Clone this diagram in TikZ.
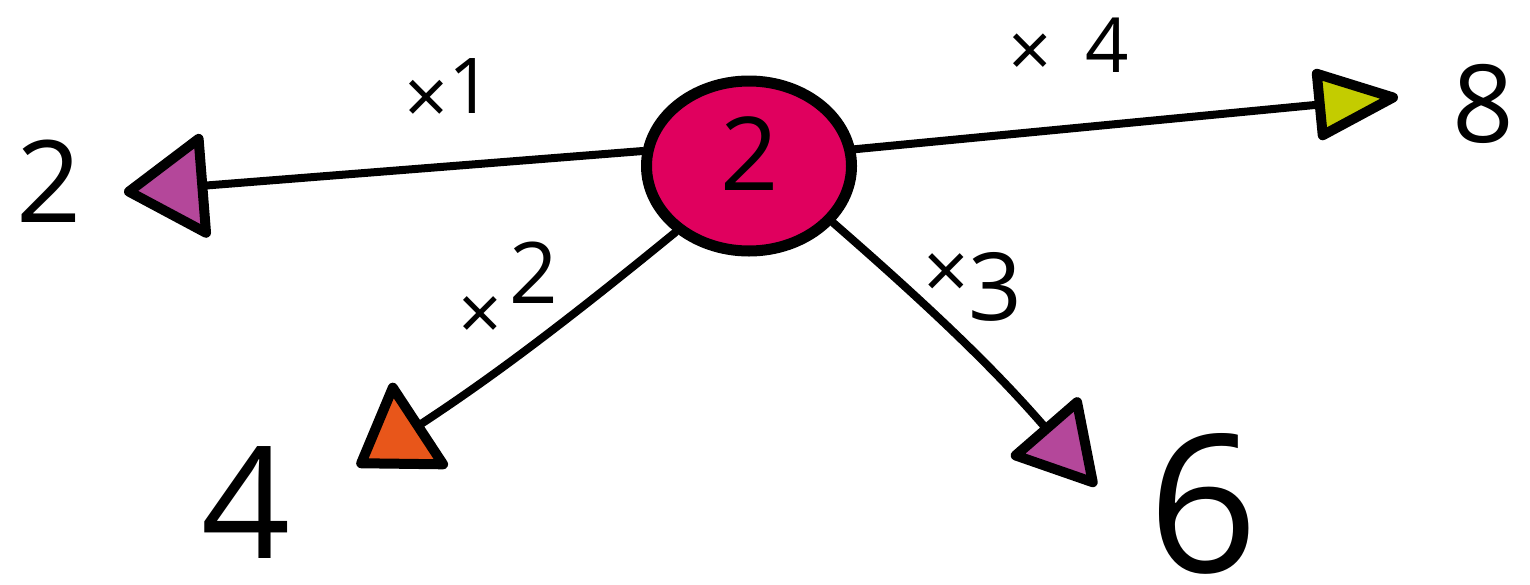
\documentclass[tikz,border=0pt]{standalone}
\usepackage{fontspec}
\setmainfont{Open Sans}
\usetikzlibrary{arrows.meta,shapes.geometric}
\definecolor{hubpink}{HTML}{E0005E}
\definecolor{tippurple}{HTML}{B4479A}
\definecolor{tiplime}{HTML}{C3CC00}
\definecolor{tiporange}{HTML}{E8561A}
\newcommand{\fsz}[1]{\fontsize{#1}{#1}\selectfont}
\tikzset{
  hub/.style={ellipse, draw=black, line width=11pt, fill=hubpink,
    minimum width=205pt, minimum height=170pt, inner sep=0pt},
  link/.style={draw=black, line width=8pt, line cap=round},
  factor/.style={inner sep=0pt, anchor=base west},
  result/.style={inner sep=0pt, anchor=base},
}
\begin{document}
\begin{tikzpicture}[x=1pt,y=-1pt]
\useasboundingbox (0,0) rectangle (1530,584);

% central value
\node[hub] (c) at (749,166) {};
\node[result] (cv) at (750,190) {\fsz{102}2};

% arrow end points
\coordinate (tl) at (124,192);
\coordinate (tr) at (1398,97);
\coordinate (tbl) at (357,466);
\coordinate (tbr) at (1096,486);

% connectors with coloured triangle tips
\draw[link, -{Triangle[length=88pt, width=110pt, round, line width=10pt, fill=tippurple]}] (c.172) -- (tl);
\draw[link, -{Triangle[length=92pt, width=74pt, round, line width=10pt, fill=tiplime]}] (c.9) -- (tr);
\draw[link, -{Triangle[length=82pt, width=108pt, round, line width=10pt, fill=tiporange]}] (c.222) to[bend left=3] (tbl);
\draw[link, -{Triangle[length=86pt, width=96pt, round, line width=10pt, fill=tippurple]}] (c.326) to[bend left=4] (tbr);

% multipliers
\node[factor] (f1) at (404,113) {\fsz{77}\raisebox{-11pt}{×}1};
\node[factor] (f4) at (1008,72) {\fsz{76}\raisebox{-5pt}{×}\hspace{34pt}4};
\node[factor] (f2) at (458,303) {\fsz{85}\raisebox{-37pt}{\scalebox{0.9}{×}}\hspace{8pt}2};
\node[factor] (f3) at (923,320) {\fsz{94}\raisebox{21pt}{\scalebox{0.85}{×}}\hspace{0pt}3};

% resulting values
\node[result] (r2) at (49,222) {\fsz{114}2};
\node[result] (r8) at (1483,142) {\fsz{108}8};
\node[result] (r4) at (246,558) {\fsz{156}4};
\node[result] (r6) at (1203,572) {\fsz{192}6};
\end{tikzpicture}
\end{document}
